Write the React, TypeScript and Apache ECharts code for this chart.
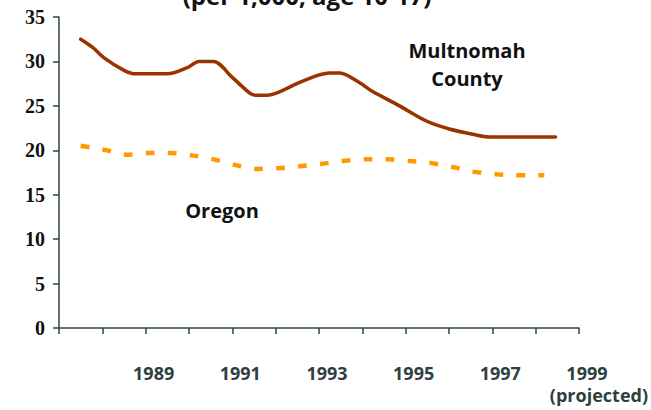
import React, { useEffect, useRef } from "react";
import * as echarts from "echarts";

// Multnomah County (year, rate per 1,000)
const multnomahYears = [1987.5, 1987.77, 1988.04, 1988.5, 1988.77, 1989.5, 1989.96, 1990.23, 1990.57, 1991.0, 1991.41, 1991.53, 1991.8, 1992.1, 1992.49, 1992.95, 1993.25, 1993.48, 1993.94, 1994.21, 1994.86, 1995.48, 1996.01, 1996.55, 1996.93, 1998.46];
const multnomahValues = [32.5, 31.6, 30.4, 29.0, 28.6, 28.6, 29.3, 30.0, 30.0, 28.2, 26.4, 26.2, 26.2, 26.6, 27.5, 28.4, 28.7, 28.7, 27.6, 26.7, 25.0, 23.3, 22.4, 21.8, 21.5, 21.5];

// Oregon (year, rate per 1,000)
const oregonYears = [1987.5, 1988.1, 1988.55, 1989.1, 1989.55, 1990.1, 1990.55, 1991.1, 1991.55, 1992.1, 1992.55, 1993.1, 1993.55, 1994.1, 1994.55, 1995.1, 1995.55, 1996.1, 1996.55, 1997.1, 1997.55, 1998.2];
const oregonValues = [20.5, 20.0, 19.5, 19.7, 19.7, 19.4, 19.0, 18.3, 17.9, 18.0, 18.2, 18.5, 18.8, 19.0, 19.0, 18.8, 18.6, 18.1, 17.6, 17.3, 17.2, 17.2];

const yearTicks = [1989, 1991, 1993, 1995, 1997, 1999];
const projectedYear = 1999;

const SANS = "'Open Sans', sans-serif";

export default function App() {
  const ref = useRef<HTMLDivElement>(null);
  useEffect(() => {
    if (!ref.current) return;
    const chart = echarts.init(ref.current, null, { renderer: "svg" });
    chart.setOption({
      animation: false,
      backgroundColor: "#ffffff",
      grid: { left: 59, right: 71, top: 17, bottom: 82, containLabel: false },
      xAxis: {
        type: "value",
        min: 1987,
        max: 1999,
        interval: 1,
        splitLine: { show: false },
        axisLine: { lineStyle: { color: "#2f4545", width: 1.5 } },
        axisTick: { show: true, length: 6, lineStyle: { color: "#2f4545", width: 1.5 } },
        axisLabel: {
          margin: 34,
          padding: [0, 0, 0, 16],
          fontFamily: SANS,
          fontWeight: "bold",
          fontSize: 18,
          color: "#2f3f3f",
          lineHeight: 22,
          showMinLabel: true,
          showMaxLabel: true,
          formatter: (v: number) => {
            const y = Math.round(v);
            if (!yearTicks.includes(y)) return "";
            if (y === projectedYear) return `${y}\n{p|(projected)}`;
            return String(y);
          },
          rich: {
            p: {
              fontFamily: SANS,
              fontWeight: "bold",
              fontSize: 18,
              color: "#2f3f3f",
              lineHeight: 22,
              padding: [0, 0, 0, 24],
            },
          },
        },
      },
      yAxis: {
        type: "value",
        min: 0,
        max: 35,
        interval: 5,
        splitLine: { show: false },
        axisLine: { show: true, lineStyle: { color: "#2f4545", width: 1.5 } },
        axisTick: { show: true, length: 6, lineStyle: { color: "#2f4545", width: 1.5 } },
        axisLabel: {
          margin: 14,
          fontFamily: "'Liberation Serif', serif",
          fontWeight: "bold",
          fontSize: 20,
          color: "#111111",
        },
      },
      series: [
        {
          name: "Multnomah County",
          type: "line",
          data: multnomahYears.map((y, i) => [y, multnomahValues[i]]),
          showSymbol: false,
          smooth: 0.3,
          lineStyle: { color: "#9a3300", width: 3.5, cap: "round", join: "round" },
        },
        {
          name: "Oregon",
          type: "line",
          data: oregonYears.map((y, i) => [y, oregonValues[i]]),
          showSymbol: false,
          smooth: 0.3,
          lineStyle: { color: "#ff9900", width: 4.5, type: [9, 13], cap: "butt" },
        },
      ],
      graphic: [
        {
          type: "text",
          style: {
            text: "(per 1,000, age 10-17)",
            x: 307,
            y: -5,
            align: "center",
            verticalAlign: "middle",
            font: `bold 24px ${SANS}`,
            fill: "#111111",
          },
        },
        {
          type: "text",
          style: {
            text: "Multnomah",
            x: 467,
            y: 50,
            align: "center",
            verticalAlign: "middle",
            font: `bold 20px ${SANS}`,
            fill: "#111111",
          },
        },
        {
          type: "text",
          style: {
            text: "County",
            x: 467,
            y: 78,
            align: "center",
            verticalAlign: "middle",
            font: `bold 20px ${SANS}`,
            fill: "#111111",
          },
        },
        {
          type: "text",
          style: {
            text: "Oregon",
            x: 222,
            y: 210,
            align: "center",
            verticalAlign: "middle",
            font: `bold 20px ${SANS}`,
            fill: "#111111",
          },
        },
      ],
    });
    return () => chart.dispose();
  }, []);
  return <div ref={ref} style={{ width: 651, height: 410, position: "absolute", left: 0, top: 0 }} />;
}
